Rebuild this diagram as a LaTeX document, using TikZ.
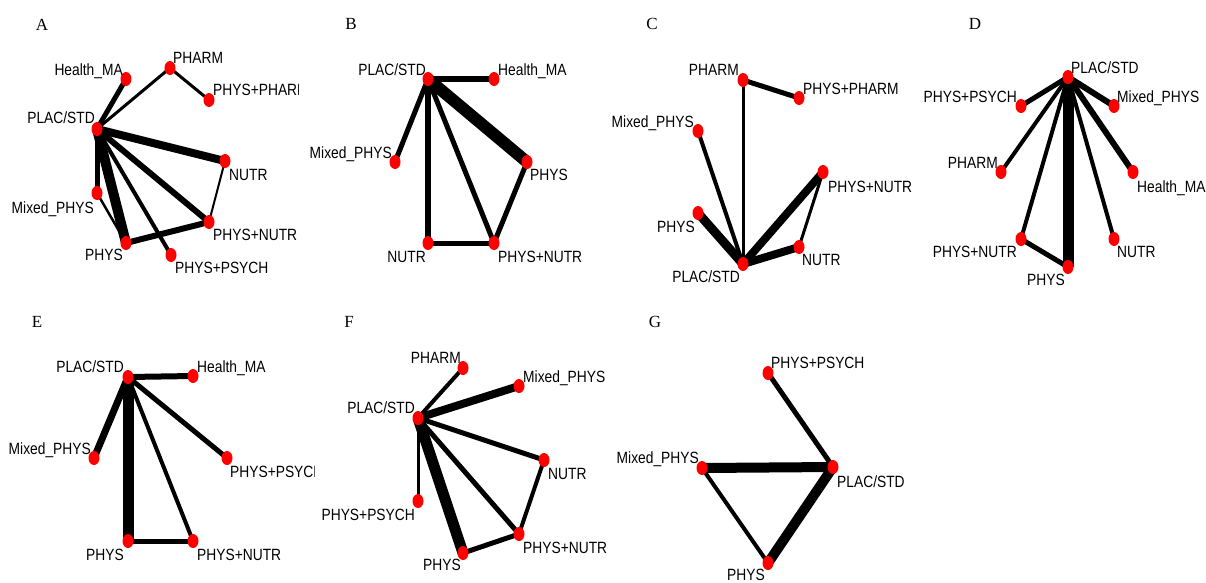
\documentclass[tikz,border=0pt]{standalone}
\usepackage{fontspec}
\setmainfont{Liberation Sans}
\newfontfamily\serifletters{Liberation Serif}
\usetikzlibrary{shapes.geometric,backgrounds}
\newcommand\mylab[1]{\scalebox{1}[1.18]{#1}}
\begin{document}
\begin{tikzpicture}[x=1pt,y=-1pt,
  dot/.style={ellipse,fill=red,draw=none,minimum width=11pt,minimum height=14pt,inner sep=0pt},
  labl/.style={anchor=base west,inner sep=0pt,yshift=-5.9pt,font=\fontsize{13.8}{14}\selectfont},
  labr/.style={anchor=base east,inner sep=0pt,yshift=-5.9pt,font=\fontsize{13.8}{14}\selectfont},
  panel/.style={inner sep=0pt,font=\serifletters\fontsize{17}{17}\selectfont},
  lw/.style={line width=#1pt,draw=black}]
\useasboundingbox (0,0) rectangle (1206,582);

% ---------- Panel letters
\node[panel] (lA) at (42,25) {A};
\node[panel] (lB) at (351,24) {B};
\node[panel] (lC) at (652,24) {C};
\node[panel] (lD) at (975,24) {D};
\node[panel] (lE) at (37,322) {E};
\node[panel] (lF) at (349,322) {F};
\node[panel] (lG) at (655,322) {G};

% ---------- Panel A
\node[dot] (aPL) at (97,129) {};
\node[dot] (aHM) at (126,79) {};
\node[dot] (aPH) at (170,68) {};
\node[dot] (aPP) at (209,100) {};
\node[dot] (aNU) at (225,161) {};
\node[dot] (aMX) at (97,193) {};
\node[dot] (aPN) at (209,222) {};
\node[dot] (aPY) at (126,243) {};
\node[dot] (aPS) at (171,255) {};
\node[labr] (taHM) at (123,70) {\mylab{Health\_MA}};
\node[labl] (taPH) at (173,58) {\mylab{PHARM}};
\begin{scope}
\clip (0,0) rectangle (298,290);
\node[labl] (taPP) at (213,90) {\mylab{PHYS+PHARM}};
\end{scope}
\node[labr] (taPL) at (95,118) {\mylab{PLAC/STD}};
\node[labl] (taNU) at (229,175) {\mylab{NUTR}};
\node[labr] (taMX) at (94,208) {\mylab{Mixed\_PHYS}};
\node[labl] (taPN) at (213,235) {\mylab{PHYS+NUTR}};
\node[labr] (taPY) at (123,255) {\mylab{PHYS}};
\node[labl] (taPS) at (175,268) {\mylab{PHYS+PSYCH}};

% ---------- Panel B
\node[dot] (bPL) at (428,79) {};
\node[dot] (bHM) at (494,79) {};
\node[dot] (bMX) at (395,162) {};
\node[dot] (bPY) at (527,162) {};
\node[dot] (bNU) at (428,243) {};
\node[dot] (bPN) at (494,243) {};
\node[labr] (tbPL) at (426,70) {\mylab{PLAC/STD}};
\node[labl] (tbHM) at (498,70) {\mylab{Health\_MA}};
\node[labr] (tbMX) at (392,153) {\mylab{Mixed\_PHYS}};
\node[labl] (tbPY) at (530,175) {\mylab{PHYS}};
\node[labr] (tbNU) at (426,257) {\mylab{NUTR}};
\node[labl] (tbPN) at (498,257) {\mylab{PHYS+NUTR}};

% ---------- Panel C
\node[dot] (cPH) at (743,80) {};
\node[dot] (cPP) at (799,98) {};
\node[dot] (cMX) at (698,131) {};
\node[dot] (cPN) at (823,172) {};
\node[dot] (cPY) at (698,213) {};
\node[dot] (cNU) at (799,247) {};
\node[dot] (cPL) at (743,264) {};
\node[labr] (tcPH) at (739,70) {\mylab{PHARM}};
\node[labl] (tcPP) at (803,89) {\mylab{PHYS+PHARM}};
\node[labr] (tcMX) at (694,122) {\mylab{Mixed\_PHYS}};
\node[labl] (tcPN) at (828,187) {\mylab{PHYS+NUTR}};
\node[labr] (tcPY) at (695,227) {\mylab{PHYS}};
\node[labl] (tcNU) at (802,260) {\mylab{NUTR}};
\node[labr] (tcPL) at (740,277) {\mylab{PLAC/STD}};

% ---------- Panel D
\node[dot] (dPL) at (1068,77) {};
\node[dot] (dPS) at (1021,106) {};
\node[dot] (dMX) at (1114,106) {};
\node[dot] (dPH) at (1001,172) {};
\node[dot] (dHM) at (1133,172) {};
\node[dot] (dPN) at (1021,239) {};
\node[dot] (dNU) at (1114,239) {};
\node[dot] (dPY) at (1068,267) {};
\node[labl] (tdPL) at (1071,68) {\mylab{PLAC/STD}};
\node[labr] (tdPS) at (1017,97) {\mylab{PHYS+PSYCH}};
\node[labl] (tdMX) at (1117,97) {\mylab{Mixed\_PHYS}};
\node[labr] (tdPH) at (998,163) {\mylab{PHARM}};
\node[labl] (tdHM) at (1137,187) {\mylab{Health\_MA}};
\node[labr] (tdPN) at (1017,252) {\mylab{PHYS+NUTR}};
\node[labl] (tdNU) at (1117,252) {\mylab{NUTR}};
\node[labr] (tdPY) at (1065,280) {\mylab{PHYS}};

% ---------- Panel E
\node[dot] (ePL) at (128,377) {};
\node[dot] (eHM) at (193,376) {};
\node[dot] (eMX) at (94,458) {};
\node[dot] (ePS) at (227,458) {};
\node[dot] (ePY) at (128,541) {};
\node[dot] (ePN) at (193,541) {};
\node[labr] (tePL) at (124,367) {\mylab{PLAC/STD}};
\node[labl] (teHM) at (197,367) {\mylab{Health\_MA}};
\node[labr] (teMX) at (91,449) {\mylab{Mixed\_PHYS}};
\begin{scope}
\clip (0,290) rectangle (314,582);
\node[labl] (tePS) at (230,472) {\mylab{PHYS+PSYCH}};
\end{scope}
\node[labr] (tePY) at (124,555) {\mylab{PHYS}};
\node[labl] (tePN) at (197,555) {\mylab{PHYS+NUTR}};

% ---------- Panel F
\node[dot] (fPH) at (463,368) {};
\node[dot] (fMX) at (519,386) {};
\node[dot] (fPL) at (418,418) {};
\node[dot] (fNU) at (544,460) {};
\node[dot] (fPS) at (418,501) {};
\node[dot] (fPN) at (519,534) {};
\node[dot] (fPY) at (463,553) {};
\node[labr] (tfPH) at (461,358) {\mylab{PHARM}};
\node[labl] (tfMX) at (523,377) {\mylab{Mixed\_PHYS}};
\node[labr] (tfPL) at (415,408) {\mylab{PLAC/STD}};
\node[labl] (tfNU) at (548,474) {\mylab{NUTR}};
\node[labr] (tfPS) at (415,515) {\mylab{PHYS+PSYCH}};
\node[labl] (tfPN) at (523,548) {\mylab{PHYS+NUTR}};
\node[labr] (tfPY) at (461,565) {\mylab{PHYS}};

% ---------- Panel G
\node[dot] (gPS) at (768,373) {};
\node[dot] (gMX) at (702,468) {};
\node[dot] (gPL) at (833,467) {};
\node[dot] (gPY) at (768,563) {};
\node[labl] (tgPS) at (771,363) {\mylab{PHYS+PSYCH}};
\node[labr] (tgMX) at (699,458) {\mylab{Mixed\_PHYS}};
\node[labl] (tgPL) at (837,482) {\mylab{PLAC/STD}};
\node[labr] (tgPY) at (765,575) {\mylab{PHYS}};

\begin{scope}[on background layer]
\fill[white] (0,0) rectangle (1206,582);
% A
\draw[lw=5] (aPL.center) -- (aHM.center);
\draw[lw=3] (aPL.center) -- (aPH.center);
\draw[lw=3] (aPH.center) -- (aPP.center);
\draw[lw=8] (aPL.center) -- (aNU.center);
\draw[lw=2] (aNU.center) -- (aPN.center);
\draw[lw=6] (aPL.center) -- (aPN.center);
\draw[lw=5] (aPL.center) -- (aMX.center);
\draw[lw=2.5] (aMX.center) -- (aPY.center);
\draw[lw=10] (aPL.center) -- (aPY.center);
\draw[lw=4] (aPL.center) -- (aPS.center);
\draw[lw=6] (aPY.center) -- (aPN.center);
% B
\draw[lw=6] (bPL.center) -- (bHM.center);
\draw[lw=5] (bPL.center) -- (bMX.center);
\draw[lw=6] (bPL.center) -- (bNU.center);
\draw[lw=5] (bPL.center) -- (bPN.center);
\draw[lw=12] (bPL.center) -- (bPY.center);
\draw[lw=5] (bPY.center) -- (bPN.center);
\draw[lw=5] (bNU.center) -- (bPN.center);
% C
\draw[lw=5] (cPH.center) -- (cPP.center);
\draw[lw=3] (cPH.center) -- (cPL.center);
\draw[lw=4] (cMX.center) -- (cPL.center);
\draw[lw=9] (cPY.center) -- (cPL.center);
\draw[lw=8] (cPL.center) -- (cPN.center);
\draw[lw=8] (cPL.center) -- (cNU.center);
\draw[lw=3] (cNU.center) -- (cPN.center);
% D
\draw[lw=5] (dPL.center) -- (dPS.center);
\draw[lw=6] (dPL.center) -- (dMX.center);
\draw[lw=4] (dPL.center) -- (dPH.center);
\draw[lw=6] (dPL.center) -- (dHM.center);
\draw[lw=4] (dPL.center) -- (dPN.center);
\draw[lw=4] (dPL.center) -- (dNU.center);
\draw[lw=11] (dPL.center) -- (dPY.center);
\draw[lw=5] (dPN.center) -- (dPY.center);
% E
\draw[lw=6] (ePL.center) -- (eHM.center);
\draw[lw=7] (ePL.center) -- (eMX.center);
\draw[lw=5] (ePL.center) -- (ePS.center);
\draw[lw=4] (ePL.center) -- (ePN.center);
\draw[lw=11] (ePL.center) -- (ePY.center);
\draw[lw=5] (ePY.center) -- (ePN.center);
% F
\draw[lw=4] (fPL.center) -- (fPH.center);
\draw[lw=8] (fPL.center) -- (fMX.center);
\draw[lw=5] (fPL.center) -- (fNU.center);
\draw[lw=3] (fPL.center) -- (fPS.center);
\draw[lw=5] (fPL.center) -- (fPN.center);
\draw[lw=11] (fPL.center) -- (fPY.center);
\draw[lw=4] (fNU.center) -- (fPN.center);
\draw[lw=5] (fPY.center) -- (fPN.center);
% G
\draw[lw=5] (gPS.center) -- (gPL.center);
\draw[lw=10] (gMX.center) -- (gPL.center);
\draw[lw=4] (gMX.center) -- (gPY.center);
\draw[lw=10] (gPL.center) -- (gPY.center);
\end{scope}
\end{tikzpicture}
\end{document}
